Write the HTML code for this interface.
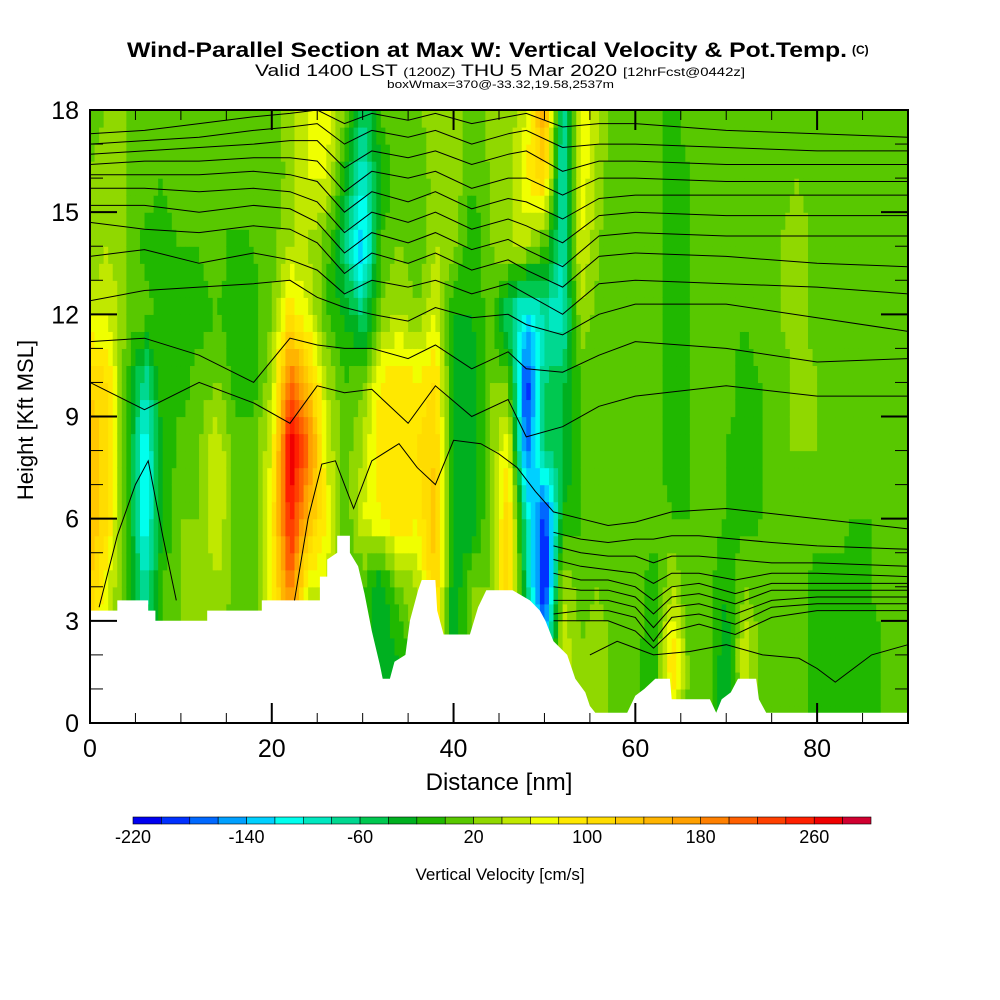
<!DOCTYPE html>
<html><head><meta charset="utf-8"><style>
html,body{margin:0;padding:0;background:#fff;}
svg{display:block;font-family:"Liberation Sans",sans-serif;}
</style></head><body>
<svg id="chart" width="1000" height="1000" viewBox="0 0 1000 1000" xmlns="http://www.w3.org/2000/svg">
<rect width="1000" height="1000" fill="#fff"/>
<g>
<text x="127" y="57" font-size="21" font-weight="bold" textLength="720" lengthAdjust="spacingAndGlyphs">Wind-Parallel Section at Max W: Vertical Velocity &amp; Pot.Temp.</text>
<text x="852" y="54" font-size="12" font-weight="bold">(C)</text>
<text x="255" y="76" font-size="17" textLength="490" lengthAdjust="spacingAndGlyphs">Valid 1400 LST <tspan font-size="12">(1200Z)</tspan> THU 5 Mar 2020 <tspan font-size="12">[12hrFcst@0442z]</tspan></text>
<text x="387" y="88" font-size="11" textLength="227" lengthAdjust="spacingAndGlyphs">boxWmax=370@-33.32,19.58,2537m</text>
</g>
<g id="field"></g>
<polygon id="terrain" fill="#fff" stroke="none"/>
<g id="contours" fill="none" stroke="#000" stroke-width="1"></g>
<g id="axes"></g>
<rect x="90" y="110" width="818" height="613" fill="none" stroke="#000" stroke-width="2"/>
<text x="499" y="790" font-size="24" text-anchor="middle">Distance [nm]</text>
<text transform="translate(33,420) rotate(-90)" font-size="22" text-anchor="middle">Height [Kft MSL]</text>
<g id="colorbar"></g>
<text x="500" y="880" font-size="17" text-anchor="middle">Vertical Velocity [cm/s]</text>
</svg>
<script>
// ---- data ----
const gridX = [0,2,4,6,8,10,12,14,16,18,20,22,24,26,28,30,32,34,36,38,40,42,44,46,48,50,52,54,56,58,60,62,64,66,68,70,72,74,76,78,80,82,84,86,88,90];
const gridH = [18,16,14,12,10,8,6,4,2,0];
const w18 = [10,20,20,10,10,20,10,20,20,10,10,30,60,80,20,-60,0,20,10,40,40,0,30,20,60,160,-80,80,40,0,10,10,-10,10,10,10,0,10,10,10,10,10,10,0,10,10];
const w16 = [20,30,20,10,0,10,20,10,20,10,0,30,60,60,-20,-100,-20,20,0,30,40,0,20,30,80,120,-100,80,30,0,10,10,-10,0,10,10,0,10,10,20,10,10,10,0,10,10];
const w14 = [20,40,20,-10,-10,0,0,10,-10,0,10,40,40,10,-60,-140,0,20,0,40,30,-20,20,40,40,0,-80,60,20,10,10,10,-10,0,10,10,0,10,20,30,10,10,10,0,10,10];
const w12 = [60,60,20,10,-10,-10,-10,0,-10,-10,20,100,60,0,-20,-60,20,40,20,60,-20,-20,10,-60,-120,-80,-100,40,10,0,10,10,-10,0,10,10,0,10,20,30,10,10,10,0,10,10];
const w10 = [120,100,0,-80,0,-10,10,20,-10,-10,40,200,140,40,0,20,80,100,80,100,-20,-40,20,20,-200,-60,-40,0,10,10,10,10,-10,0,10,10,-10,0,10,30,20,10,10,0,10,10];
const w8  = [140,100,0,-120,-20,10,20,60,10,10,60,280,200,60,10,40,100,100,100,120,-20,-40,20,80,-180,-60,-40,0,10,10,10,10,-10,0,10,0,-10,0,20,20,20,10,0,0,10,10];
const w6  = [140,100,0,-120,-20,20,20,60,10,10,80,260,140,80,0,60,80,100,80,140,-40,-40,20,120,-80,-200,-20,0,10,10,10,10,0,0,10,0,-10,0,10,20,10,10,0,0,10,10];
const w4  = [120,60,0,-80,0,20,20,40,10,10,80,200,60,60,0,0,-40,20,40,120,-40,20,20,120,-60,-220,40,10,20,0,20,-20,40,0,10,-20,20,10,10,10,-10,-10,-10,0,10,10];
const w2  = [100,40,0,-40,0,20,20,20,10,10,60,120,40,40,0,0,-40,-20,20,80,-40,20,20,100,-60,-100,60,20,40,0,10,-20,100,10,10,-40,60,10,10,10,-10,-10,-20,-10,10,10];
const w0  = [100,40,0,-40,0,20,20,20,10,10,60,120,40,40,0,0,-40,-20,20,80,-40,20,20,100,-60,-100,60,20,40,0,10,-20,80,10,10,-40,40,10,10,10,-10,-10,-20,-10,10,10];
const terrainX = [0,3,3,6.4,6.4,7.2,7.2,12.9,12.9,18.9,18.9,25.3,25.3,26.1,26.1,27.2,27.2,28.6,28.6,29.5,30.2,31.0,31.9,32.2,33.0,33.5,34.7,35.2,36.1,36.5,38.0,38.2,38.9,41.8,42.7,43.6,46.5,48.4,49.5,50.1,51.0,52.5,53.4,54.5,55.0,55.6,59.1,60.0,61.0,62.2,63.8,64.0,68.2,68.9,69.5,70.5,71.3,73.3,73.6,74.4,90];
const terrainH = [3.3,3.3,3.6,3.6,3.3,3.3,3.0,3.0,3.3,3.3,3.6,3.6,4.3,4.3,4.8,5.0,5.5,5.5,5.0,4.6,3.8,2.7,1.7,1.3,1.3,1.8,2.0,3.0,3.9,4.2,4.2,3.3,2.6,2.6,3.4,3.9,3.9,3.6,3.3,3.0,2.4,2.0,1.3,0.9,0.5,0.3,0.3,0.8,1.0,1.3,1.3,0.7,0.7,0.3,0.7,0.9,1.3,1.3,0.7,0.3,0.3];
const upperXs = [0,6,12,18,22,25,28,31,35,38,42,46,48,52,56,60,70,80,90];
const th1  = [17.3,17.4,17.6,17.8,17.9,18.0,17.6,17.9,17.7,17.9,17.6,17.8,17.9,17.5,17.6,17.6,17.4,17.3,17.2];
const th2  = [17.0,17.1,17.2,17.4,17.5,17.6,17.0,17.4,17.2,17.4,17.0,17.3,17.4,16.9,17.0,17.0,16.9,16.8,16.8];
const th3  = [16.7,16.8,16.9,17.0,17.1,17.1,16.3,16.8,16.6,16.8,16.4,16.7,16.8,16.2,16.5,16.5,16.4,16.4,16.4];
const th4  = [16.4,16.5,16.5,16.6,16.6,16.5,15.6,16.2,16.0,16.2,15.7,16.0,16.0,15.5,16.0,16.0,15.9,15.9,15.9];
const th5  = [16.1,16.1,16.1,16.2,16.1,15.9,15.0,15.6,15.3,15.6,15.1,15.4,15.3,14.8,15.4,15.5,15.5,15.5,15.5];
const th6  = [15.7,15.7,15.6,15.7,15.6,15.3,14.4,15.0,14.7,15.0,14.5,14.8,14.6,14.1,14.9,15.0,14.9,14.9,14.9];
const th7  = [15.2,15.2,15.0,15.2,15.1,14.7,13.8,14.4,14.1,14.4,13.9,14.2,13.9,13.4,14.3,14.4,14.3,14.3,14.3];
const th8  = [14.7,14.5,14.4,14.6,14.5,14.1,13.2,13.8,13.5,13.8,13.3,13.6,13.3,12.8,13.7,13.8,13.7,13.5,13.4];
const th9  = [13.7,13.9,13.5,13.8,13.6,13.3,12.6,13.0,12.8,13.0,12.6,12.9,12.6,12.0,12.9,13.0,12.9,12.8,12.6];
const th10 = [12.4,12.7,12.8,12.9,13.0,12.5,12.2,12.0,11.8,12.2,11.9,12.0,11.7,11.4,12.0,12.3,12.3,11.9,11.5];
const th11 = [11.2,11.3,10.8,10.0,11.3,11.1,11.0,11.0,10.7,11.1,10.4,10.9,10.4,10.3,10.8,11.2,11.0,10.6,10.7];
const th12 = [10.0,9.2,10.0,9.4,8.8,9.9,9.7,9.8,8.8,9.9,9.0,9.5,8.4,8.7,9.3,9.6,9.9,9.6,9.6];
const midXs = [22.5,24,25.5,27,29,31,34,36,38,40,43,45,47,49,51,54,57,60,64,70,80,90];
const th13 = [3.6,6.0,7.6,7.7,6.3,7.7,8.2,7.5,7.0,8.3,8.2,7.9,7.5,6.8,6.2,6.0,5.8,5.9,6.2,6.3,6.0,5.7];
const lowXs = [51,54,57,60,62,64,67,71,75,80,90];
const th14 = [5.6,5.4,5.3,5.4,5.4,5.5,5.5,5.4,5.3,5.2,5.1];
const th15 = [5.2,5.0,4.9,4.9,4.7,4.9,4.9,4.8,4.7,4.7,4.6];
const th16 = [4.8,4.6,4.5,4.4,4.1,4.4,4.4,4.2,4.4,4.4,4.3];
const th17 = [4.4,4.2,4.2,4.0,3.6,4.0,4.1,3.8,4.1,4.1,4.1];
const th18 = [4.0,3.9,3.9,3.7,3.2,3.7,3.8,3.5,3.9,3.9,3.9];
const th19 = [3.6,3.6,3.6,3.4,2.8,3.4,3.5,3.2,3.6,3.7,3.7];
const th20 = [3.2,3.3,3.3,3.1,2.4,3.1,3.2,2.9,3.4,3.5,3.5];
const th21 = [3.0,3.0,3.0,2.7,2.2,2.7,2.9,2.6,3.1,3.3,3.3];
const loopXs = [1,3,5,6.4,8,9.5];
const th22 = [3.4,5.5,7.0,7.7,5.5,3.6];
const botXs = [55,58,62,66,70,74,78,80,82,86,90];
const th23 = [2.0,2.4,2.0,2.1,2.3,2.0,1.9,1.6,1.2,2.0,2.3];
const xTickLabels = ["0","20","40","60","80"];
const yTickLabels = ["0","3","6","9","12","15","18"];
const cbLabels = ["-220","-140","-60","20","100","180","260"];
const cbColors = ["#0000f0","#0030ff","#0068ff","#00a0ff","#00d0ff","#00ffee","#00e8c0","#00d890","#00c850","#00b020","#20b800","#58c800","#90d800","#c0e800","#f0ff00","#ffe800","#ffdc00","#ffc800","#ffb400","#ffa000","#ff8000","#ff6000","#ff4000","#ff2000","#f00000","#d00030"];
// ---- scales ----
const NS='http://www.w3.org/2000/svg';
const X0=90,X1=908,Y0=723,Y1=110;
function sx(d){return X0+(d/90)*(X1-X0);}
function sy(h){return Y0-(h/18)*(Y0-Y1);}
function colorFor(v){let i=Math.floor((v+220)/20);if(i<0)i=0;if(i>25)i=25;return cbColors[i];}
const rows=[w18,w16,w14,w12,w10,w8,w6,w4,w2,w0];
function sample(d,h){
  let ci=Math.min(Math.floor(d/2),gridX.length-2), fx=(d-gridX[ci])/2;
  let ri=Math.min(Math.floor((18-h)/2),gridH.length-2), fy=((18-h)-(18-gridH[ri]))/2;
  const a=rows[ri][ci],b=rows[ri][ci+1],c=rows[ri+1][ci],e=rows[ri+1][ci+1];
  return a*(1-fx)*(1-fy)+b*fx*(1-fy)+c*(1-fx)*fy+e*fx*fy;
}
const field=document.getElementById('field');
const dx=0.5,dh=0.5;
for(let d=0;d<90;d+=dx){
  for(let h=0;h<18;h+=dh){
    const v=sample(d+dx/2,h+dh/2);
    const r=document.createElementNS(NS,'rect');
    
    
    r.setAttribute('x',sx(d).toFixed(2));
    r.setAttribute('y',sy(h+dh).toFixed(2));
    r.setAttribute('width',(sx(dx)-sx(0)+0.6).toFixed(2));
    r.setAttribute('height',(sy(0)-sy(dh)+0.6).toFixed(2));
    r.setAttribute('fill',colorFor(v));
    field.appendChild(r);
  }
}
// terrain
let tp=terrainX.map((x,i)=>sx(x).toFixed(1)+','+sy(terrainH[i]).toFixed(1));
tp.push(sx(90)+','+sy(0)); tp.push(sx(0)+','+sy(0));
document.getElementById('terrain').setAttribute('points',tp.join(' '));
// contours
const cg=document.getElementById('contours');
function addLine(xs,hs){
  const p=document.createElementNS(NS,'polyline');
  
  
  p.setAttribute('points',xs.map((x,i)=>sx(x).toFixed(1)+','+sy(Math.min(18,hs[i])).toFixed(1)).join(' '));
  cg.appendChild(p);
}
[th1,th2,th3,th4,th5,th6,th7,th8,th9,th10,th11,th12].forEach(l=>addLine(upperXs,l));
addLine(midXs,th13);
[th14,th15,th16,th17,th18,th19,th20,th21].forEach(l=>addLine(lowXs,l));
addLine(loopXs,th22);
addLine(botXs,th23);
// axes
const ax=document.getElementById('axes');
function line(x1,y1,x2,y2,name,wd){
  const l=document.createElementNS(NS,'line');
  
  
  l.setAttribute('x1',x1);l.setAttribute('y1',y1);l.setAttribute('x2',x2);l.setAttribute('y2',y2);
  l.setAttribute('stroke','#000');l.setAttribute('stroke-width',wd||1);
  ax.appendChild(l);
}
function txt(x,y,s,size,anchor,name){
  const t=document.createElementNS(NS,'text');
  
  
  t.setAttribute('x',x);t.setAttribute('y',y);t.setAttribute('font-size',size);t.setAttribute('text-anchor',anchor);
  t.textContent=s;ax.appendChild(t);return t;
}
for(let d=5;d<90;d+=5){
  const major=d%20===0, len=major?20:10;
  line(sx(d),Y0,sx(d),Y0-len,'x-tick',major?2:1);
  line(sx(d),Y1,sx(d),Y1+len,'x-tick-top',major?2:1);
}
xTickLabels.forEach(s=>txt(sx(+s),757,s,25,'middle','x-tick-label'));
for(let h=1;h<18;h++){
  const major=h%3===0, len=major?27:13;
  line(X0,sy(h),X0+len,sy(h),'y-tick',major?2:1);
  line(X1,sy(h),X1-len,sy(h),'y-tick-right',major?2:1);
}
yTickLabels.forEach(s=>txt(79,sy(+s)+9,s,25,'end','y-tick-label'));
// colorbar
const cb=document.getElementById('colorbar');
const cbx0=133,cbx1=871,cbw=(cbx1-cbx0)/cbColors.length;
cbColors.forEach((c,i)=>{
  const r=document.createElementNS(NS,'rect');
  
  
  r.setAttribute('x',cbx0+i*cbw);r.setAttribute('y',817);r.setAttribute('width',cbw);r.setAttribute('height',7);
  r.setAttribute('fill',c);r.setAttribute('stroke','#000');r.setAttribute('stroke-width',0.6);
  cb.appendChild(r);
});
cbLabels.forEach(s=>{
  const v=+s, x=cbx0+((v+220)/20)*cbw;
  const t=document.createElementNS(NS,'text');
  
  
  t.setAttribute('x',x);t.setAttribute('y',843);t.setAttribute('font-size',18);t.setAttribute('text-anchor','middle');
  t.textContent=s;cb.appendChild(t);
});
</script>
</body></html>
